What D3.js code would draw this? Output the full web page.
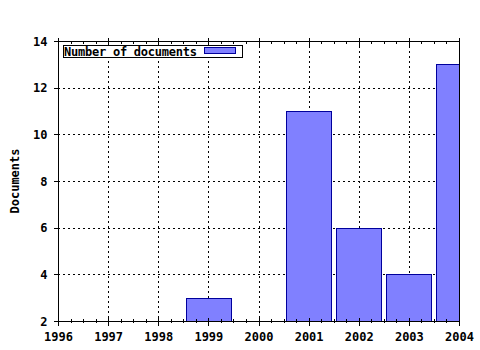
<!DOCTYPE html>
<html>
<head>
<meta charset="utf-8">
<script src="https://cdn.jsdelivr.net/npm/d3@7"></script>
<style>
  body { margin: 0; background: #fff; }
  text { font-family: "DejaVu Sans Mono", monospace; font-weight: bold; font-size: 12px; fill: #000; }
</style>
</head>
<body>
<div id="chart"></div>
<script>
const years = [1999, 2001, 2002, 2003, 2004]
const counts = [3, 11, 6, 4, 13]
const xTicks = [1996, 1997, 1998, 1999, 2000, 2001, 2002, 2003, 2004]
const yTicks = [2, 4, 6, 8, 10, 12, 14]
const seriesName = 'Number of documents'

const width = 480, height = 350
const pLeft = 58, pRight = 459, pTop = 41, pBottom = 321

const x = d3.scaleLinear().domain([1996, 2004]).range([pLeft, pRight])
const y = d3.scaleLinear().domain([2, 14]).range([pBottom, pTop])

const svg = d3.select('#chart').append('svg')
  .attr('width', width)
  .attr('height', height)

svg.append('clipPath').attr('id', 'plot')
  .append('rect')
  .attr('x', pLeft).attr('y', pTop)
  .attr('width', pRight - pLeft).attr('height', pBottom - pTop)

// dotted grid
const grid = svg.append('g').attr('shape-rendering', 'crispEdges')
grid.selectAll('.vg')
  .data(xTicks.slice(1, -1))
  .join('line')
  .attr('x1', d => Math.round(x(d)) + 0.5).attr('x2', d => Math.round(x(d)) + 0.5)
  .attr('y1', pTop).attr('y2', pBottom)
  .attr('stroke', '#000').attr('stroke-dasharray', '2,3')
grid.selectAll('.hg')
  .data(yTicks.slice(1, -1))
  .join('line')
  .attr('y1', d => Math.round(y(d)) + 0.5).attr('y2', d => Math.round(y(d)) + 0.5)
  .attr('x1', pLeft).attr('x2', pRight)
  .attr('stroke', '#000').attr('stroke-dasharray', '2,3')

// bars
const barW = (x(1) - x(0)) * 0.9
svg.append('g')
  .attr('clip-path', 'url(#plot)')
  .selectAll('rect')
  .data(years)
  .join('rect')
  .attr('x', d => Math.round(x(d) - barW / 2) + 0.5)
  .attr('width', Math.round(barW))
  .attr('y', (d, i) => Math.round(y(counts[i])) + 0.5)
  .attr('height', (d, i) => Math.round(y(2)) - Math.round(y(counts[i])))
  .attr('fill', '#8080ff')
  .attr('stroke', '#00009c')
  .attr('stroke-width', 1)
  .attr('shape-rendering', 'crispEdges')

// frame
svg.append('rect')
  .attr('x', pLeft + 0.5).attr('y', pTop + 0.5)
  .attr('width', pRight - pLeft).attr('height', pBottom - pTop)
  .attr('fill', 'none').attr('stroke', '#000')
  .attr('shape-rendering', 'crispEdges')

// minor ticks
const minor = []
for (let i = 0; i < xTicks.length - 1; i++) {
  for (let k = 1; k < 4; k++) minor.push(xTicks[i] + k / 4)
}
const ticks = svg.append('g').attr('stroke', '#000').attr('shape-rendering', 'crispEdges')
ticks.selectAll('.mb').data(minor).join('line')
  .attr('x1', d => Math.round(x(d)) + 0.5).attr('x2', d => Math.round(x(d)) + 0.5)
  .attr('y1', pBottom - 2).attr('y2', pBottom + 2)
ticks.selectAll('.mt').data(minor).join('line')
  .attr('x1', d => Math.round(x(d)) + 0.5).attr('x2', d => Math.round(x(d)) + 0.5)
  .attr('y1', pTop).attr('y2', pTop + 3)

// bottom axis
const xAxis = svg.append('g')
  .attr('transform', `translate(0,${pBottom + 0.5})`)
  .call(d3.axisBottom(x).tickValues(xTicks).tickFormat(d3.format('d')).tickSize(4).tickSizeOuter(0))
xAxis.select('.domain').remove()
xAxis.selectAll('.tick line').attr('y1', -4).attr('stroke', '#000').attr('shape-rendering', 'crispEdges')
xAxis.selectAll('.tick text').attr('y', 19).attr('dy', 0).attr('font-size', null).attr('font-family', null)

// top axis ticks
const xTop = svg.append('g')
  .attr('transform', `translate(0,${pTop + 0.5})`)
  .call(d3.axisTop(x).tickValues(xTicks).tickFormat('').tickSize(4).tickSizeOuter(0))
xTop.select('.domain').remove()
xTop.selectAll('.tick line').attr('y1', 4).attr('y2', -4).attr('stroke', '#000').attr('shape-rendering', 'crispEdges')

// left axis
const yAxis = svg.append('g')
  .attr('transform', `translate(${pLeft + 0.5},0)`)
  .call(d3.axisLeft(y).tickValues(yTicks).tickSize(5).tickSizeOuter(0))
yAxis.select('.domain').remove()
yAxis.selectAll('.tick line').attr('stroke', '#000').attr('shape-rendering', 'crispEdges')
yAxis.selectAll('.tick text').attr('x', -11).attr('dy', '0.35em').attr('font-size', null).attr('font-family', null)

// axis title
svg.append('text')
  .attr('transform', `translate(19,${(pTop + pBottom) / 2}) rotate(-90)`)
  .attr('text-anchor', 'middle')
  .text('Documents')

// legend
const lg = svg.append('g')
lg.append('rect')
  .attr('x', 63.5).attr('y', 45.5).attr('width', 179).attr('height', 12)
  .attr('fill', '#fff').attr('stroke', '#000').attr('shape-rendering', 'crispEdges')
lg.append('text').attr('x', 64).attr('y', 55.5)
  .attr('textLength', 133).attr('lengthAdjust', 'spacing')
  .text(seriesName)
lg.append('rect')
  .attr('x', 204.5).attr('y', 47.5).attr('width', 31).attr('height', 6)
  .attr('fill', '#8080ff').attr('stroke', '#00009c').attr('shape-rendering', 'crispEdges')
</script>
</body>
</html>
